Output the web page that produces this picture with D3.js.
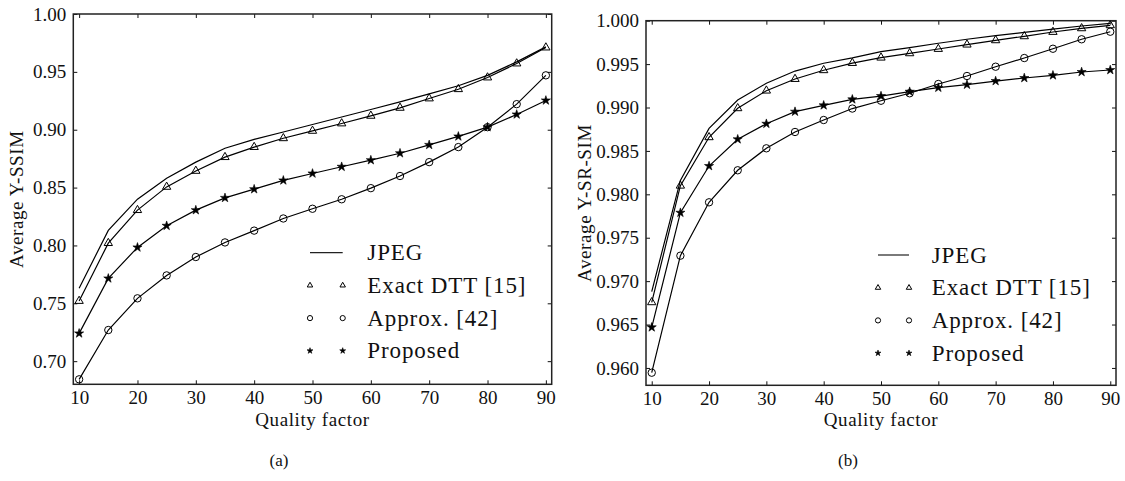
<!DOCTYPE html>
<html>
<head>
<meta charset="utf-8">
<script src="https://cdn.jsdelivr.net/npm/d3@7"></script>
<style>
  body { margin: 0; background: #fff; }
  svg { display: block; }
  text { font-family: "Liberation Serif", "Times New Roman", serif; fill: #111; }
</style>
</head>
<body>
<svg id="chart" width="1125" height="481"></svg>
<script>
// ---------------- data ----------------
const quality = [10, 15, 20, 25, 30, 35, 40, 45, 50, 55, 60, 65, 70, 75, 80, 85, 90];

// (a) Average Y-SSIM
const ssimJPEG     = [0.763, 0.813, 0.840, 0.858, 0.872, 0.884, 0.8916, 0.898, 0.9045, 0.911, 0.9175, 0.924, 0.931, 0.938, 0.947, 0.9586, 0.9716];
const ssimExactDTT = [0.752, 0.802, 0.8305, 0.8506, 0.8644, 0.8763, 0.885, 0.8926, 0.899, 0.9054, 0.912, 0.9189, 0.927, 0.935, 0.9451, 0.9572, 0.971];
const ssimApprox   = [0.6843, 0.7269, 0.7543, 0.7741, 0.790, 0.8026, 0.8128, 0.8233, 0.8317, 0.8399, 0.8495, 0.860, 0.872, 0.885, 0.9022, 0.9221, 0.947];
const ssimProposed = [0.724, 0.7715, 0.7983, 0.817, 0.8305, 0.8411, 0.8486, 0.8562, 0.8622, 0.868, 0.8737, 0.8797, 0.8869, 0.8942, 0.9022, 0.9132, 0.9253];

// (b) Average Y-SR-SIM
const srsimJPEG     = [0.9688, 0.9816, 0.9876, 0.99086, 0.99279, 0.9942, 0.9951, 0.99572, 0.99643, 0.99689, 0.9974, 0.99786, 0.99827, 0.99866, 0.99904, 0.99939, 0.9997];
const srsimExactDTT = [0.96756, 0.98099, 0.98657, 0.98991, 0.99194, 0.99328, 0.99429, 0.99512, 0.99574, 0.99624, 0.99674, 0.99724, 0.99774, 0.9982, 0.9987, 0.99912, 0.99947];
const srsimApprox   = [0.95945, 0.97293, 0.97908, 0.98277, 0.9853, 0.98718, 0.98856, 0.98988, 0.99078, 0.99164, 0.99271, 0.99363, 0.9947, 0.9957, 0.99677, 0.99786, 0.99873];
const srsimProposed = [0.96468, 0.97788, 0.98326, 0.98634, 0.98813, 0.98952, 0.99025, 0.99094, 0.99132, 0.99182, 0.99228, 0.99263, 0.99305, 0.9934, 0.99371, 0.99409, 0.99432];

const xTicks = [10, 20, 30, 40, 50, 60, 70, 80, 90];
const yTicksA = [0.70, 0.75, 0.80, 0.85, 0.90, 0.95, 1.00];
const yTicksB = [0.960, 0.965, 0.970, 0.975, 0.980, 0.985, 0.990, 0.995, 1.000];

const legendLabels = ["JPEG", "Exact DTT [15]", "Approx. [42]", "Proposed"];

// ---------------- drawing ----------------
const svg = d3.select("#chart");

function drawPanel(cfg) {
  const x = d3.scaleLinear().domain([9, 91]).range([cfg.left, cfg.right]);
  const y = d3.scaleLinear().domain(cfg.yDomain).range([cfg.bottom, cfg.top]);
  const g = svg.append("g");
  const tickLen = 4;

  // axes (ticks pointing inward)
  const bottomAxis = d3.axisBottom(x).tickValues(xTicks).tickSizeInner(-tickLen).tickSizeOuter(0).tickPadding(6).tickFormat(d3.format("d"));
  const topAxis = d3.axisTop(x).tickValues(xTicks).tickSizeInner(-tickLen).tickSizeOuter(0).tickFormat("");
  const leftAxis = d3.axisLeft(y).tickValues(cfg.yTicks).tickSizeInner(-tickLen).tickSizeOuter(0).tickPadding(7).tickFormat(d3.format(cfg.yFmt));
  const rightAxis = d3.axisRight(y).tickValues(cfg.yTicks).tickSizeInner(-tickLen).tickSizeOuter(0).tickFormat("");

  const styleAxis = sel => {
    sel.attr("font-family", null).attr("font-size", null);
    sel.select(".domain").remove();
    sel.selectAll(".tick line").attr("stroke", "#111").attr("stroke-width", 1);
    sel.selectAll(".tick text").attr("font-size", 19).attr("fill", "#333");
  };
  g.append("g").attr("transform", `translate(0,${cfg.bottom})`).call(bottomAxis).call(styleAxis);
  g.append("g").attr("transform", `translate(0,${cfg.top})`).call(topAxis).call(styleAxis);
  g.append("g").attr("transform", `translate(${cfg.left},0)`).call(leftAxis).call(styleAxis);
  g.append("g").attr("transform", `translate(${cfg.right},0)`).call(rightAxis).call(styleAxis);

  // frame
  g.append("rect").attr("x", cfg.left).attr("y", cfg.top)
    .attr("width", cfg.right - cfg.left).attr("height", cfg.bottom - cfg.top)
    .attr("fill", "none").attr("stroke", "#222").attr("stroke-width", 1.5);

  const line = d3.line().x((d, i) => x(quality[i])).y(d => y(d));
  const clipId = "clip" + cfg.id;
  svg.append("clipPath").attr("id", clipId).append("rect")
    .attr("x", cfg.left).attr("y", cfg.top).attr("width", cfg.right - cfg.left).attr("height", cfg.bottom - cfg.top);
  const plot = g.append("g").attr("clip-path", `url(#${clipId})`);

  cfg.series.forEach(s => {
    plot.append("path").datum(s.values).attr("d", line)
      .attr("fill", "none").attr("stroke", "#000").attr("stroke-width", 1.2);
  });

  const drawMarker = (sel, kind, cx, cy, small) => {
    if (kind === "circle") {
      sel.append("circle").attr("cx", cx).attr("cy", cy).attr("r", small ? 2.6 : 3.7)
        .attr("fill", "none").attr("stroke", "#000").attr("stroke-width", 1);
    } else if (kind === "tri") {
      const p = d3.symbol().type(d3.symbolTriangle).size(small ? 13 : 30);
      sel.append("path").attr("d", p).attr("transform", `translate(${cx},${cy})`)
        .attr("fill", "none").attr("stroke", "#000").attr("stroke-width", 1);
    } else if (kind === "star") {
      const p = d3.symbol().type(d3.symbolStar).size(small ? 11 : 26);
      sel.append("path").attr("d", p).attr("transform", `translate(${cx},${cy})`)
        .attr("fill", "#000").attr("stroke", "#000").attr("stroke-width", 0.6);
    }
  };
  cfg.series.forEach(s => {
    if (!s.marker) return;
    s.values.forEach((v, i) => drawMarker(plot, s.marker, x(quality[i]), y(v), false));
  });

  // legend
  const lg = g.append("g");
  cfg.series.forEach((s, i) => {
    const cy = cfg.legendY + i * cfg.legendStep;
    if (!s.marker) {
      lg.append("line").attr("x1", cfg.legendM1).attr("x2", cfg.legendM2)
        .attr("y1", cy).attr("y2", cy).attr("stroke", "#222").attr("stroke-width", 1.2);
    } else {
      drawMarker(lg, s.marker, cfg.legendM1, cy, true);
      drawMarker(lg, s.marker, cfg.legendM2, cy, true);
    }
    lg.append("text").attr("x", cfg.legendText).attr("y", cy + 7.5)
      .attr("font-size", 23).style("letter-spacing", "0.9px").text(legendLabels[i]);
  });

  // axis labels
  g.append("text").attr("x", (cfg.left + cfg.right) / 2).attr("y", 426)
    .attr("text-anchor", "middle").attr("font-size", 19).style("letter-spacing", "0.6px").text("Quality factor");
  g.append("text").attr("transform", `translate(${cfg.ylabX},${(cfg.top + cfg.bottom) / 2}) rotate(-90)`)
    .attr("text-anchor", "middle").attr("font-size", 19).style("letter-spacing", "0.6px").text(cfg.ylabel);
  g.append("text").attr("x", cfg.capX).attr("y", 466)
    .attr("text-anchor", "middle").attr("font-size", 17).text(cfg.caption);
}

drawPanel({
  id: "a", left: 73.3, right: 551.7, top: 14, bottom: 384.3,
  yDomain: [0.68, 1.00], yTicks: yTicksA, yFmt: ".2f",
  series: [
    { values: ssimJPEG, marker: null },
    { values: ssimExactDTT, marker: "tri" },
    { values: ssimApprox, marker: "circle" },
    { values: ssimProposed, marker: "star" }
  ],
  legendY: 252.7, legendStep: 32.7, legendM1: 310, legendM2: 342.7, legendText: 367.3,
  ylabX: 22.5, ylabel: "Average Y-SSIM", capX: 279, caption: "(a)"
});

drawPanel({
  id: "b", left: 646, right: 1116, top: 20.7, bottom: 385.3,
  yDomain: [0.958, 1.000], yTicks: yTicksB, yFmt: ".3f",
  series: [
    { values: srsimJPEG, marker: null },
    { values: srsimExactDTT, marker: "tri" },
    { values: srsimApprox, marker: "circle" },
    { values: srsimProposed, marker: "star" }
  ],
  legendY: 255, legendStep: 32.7, legendM1: 878, legendM2: 909, legendText: 931.7,
  ylabX: 591, ylabel: "Average Y-SR-SIM", capX: 848, caption: "(b)"
});
</script>
</body>
</html>
